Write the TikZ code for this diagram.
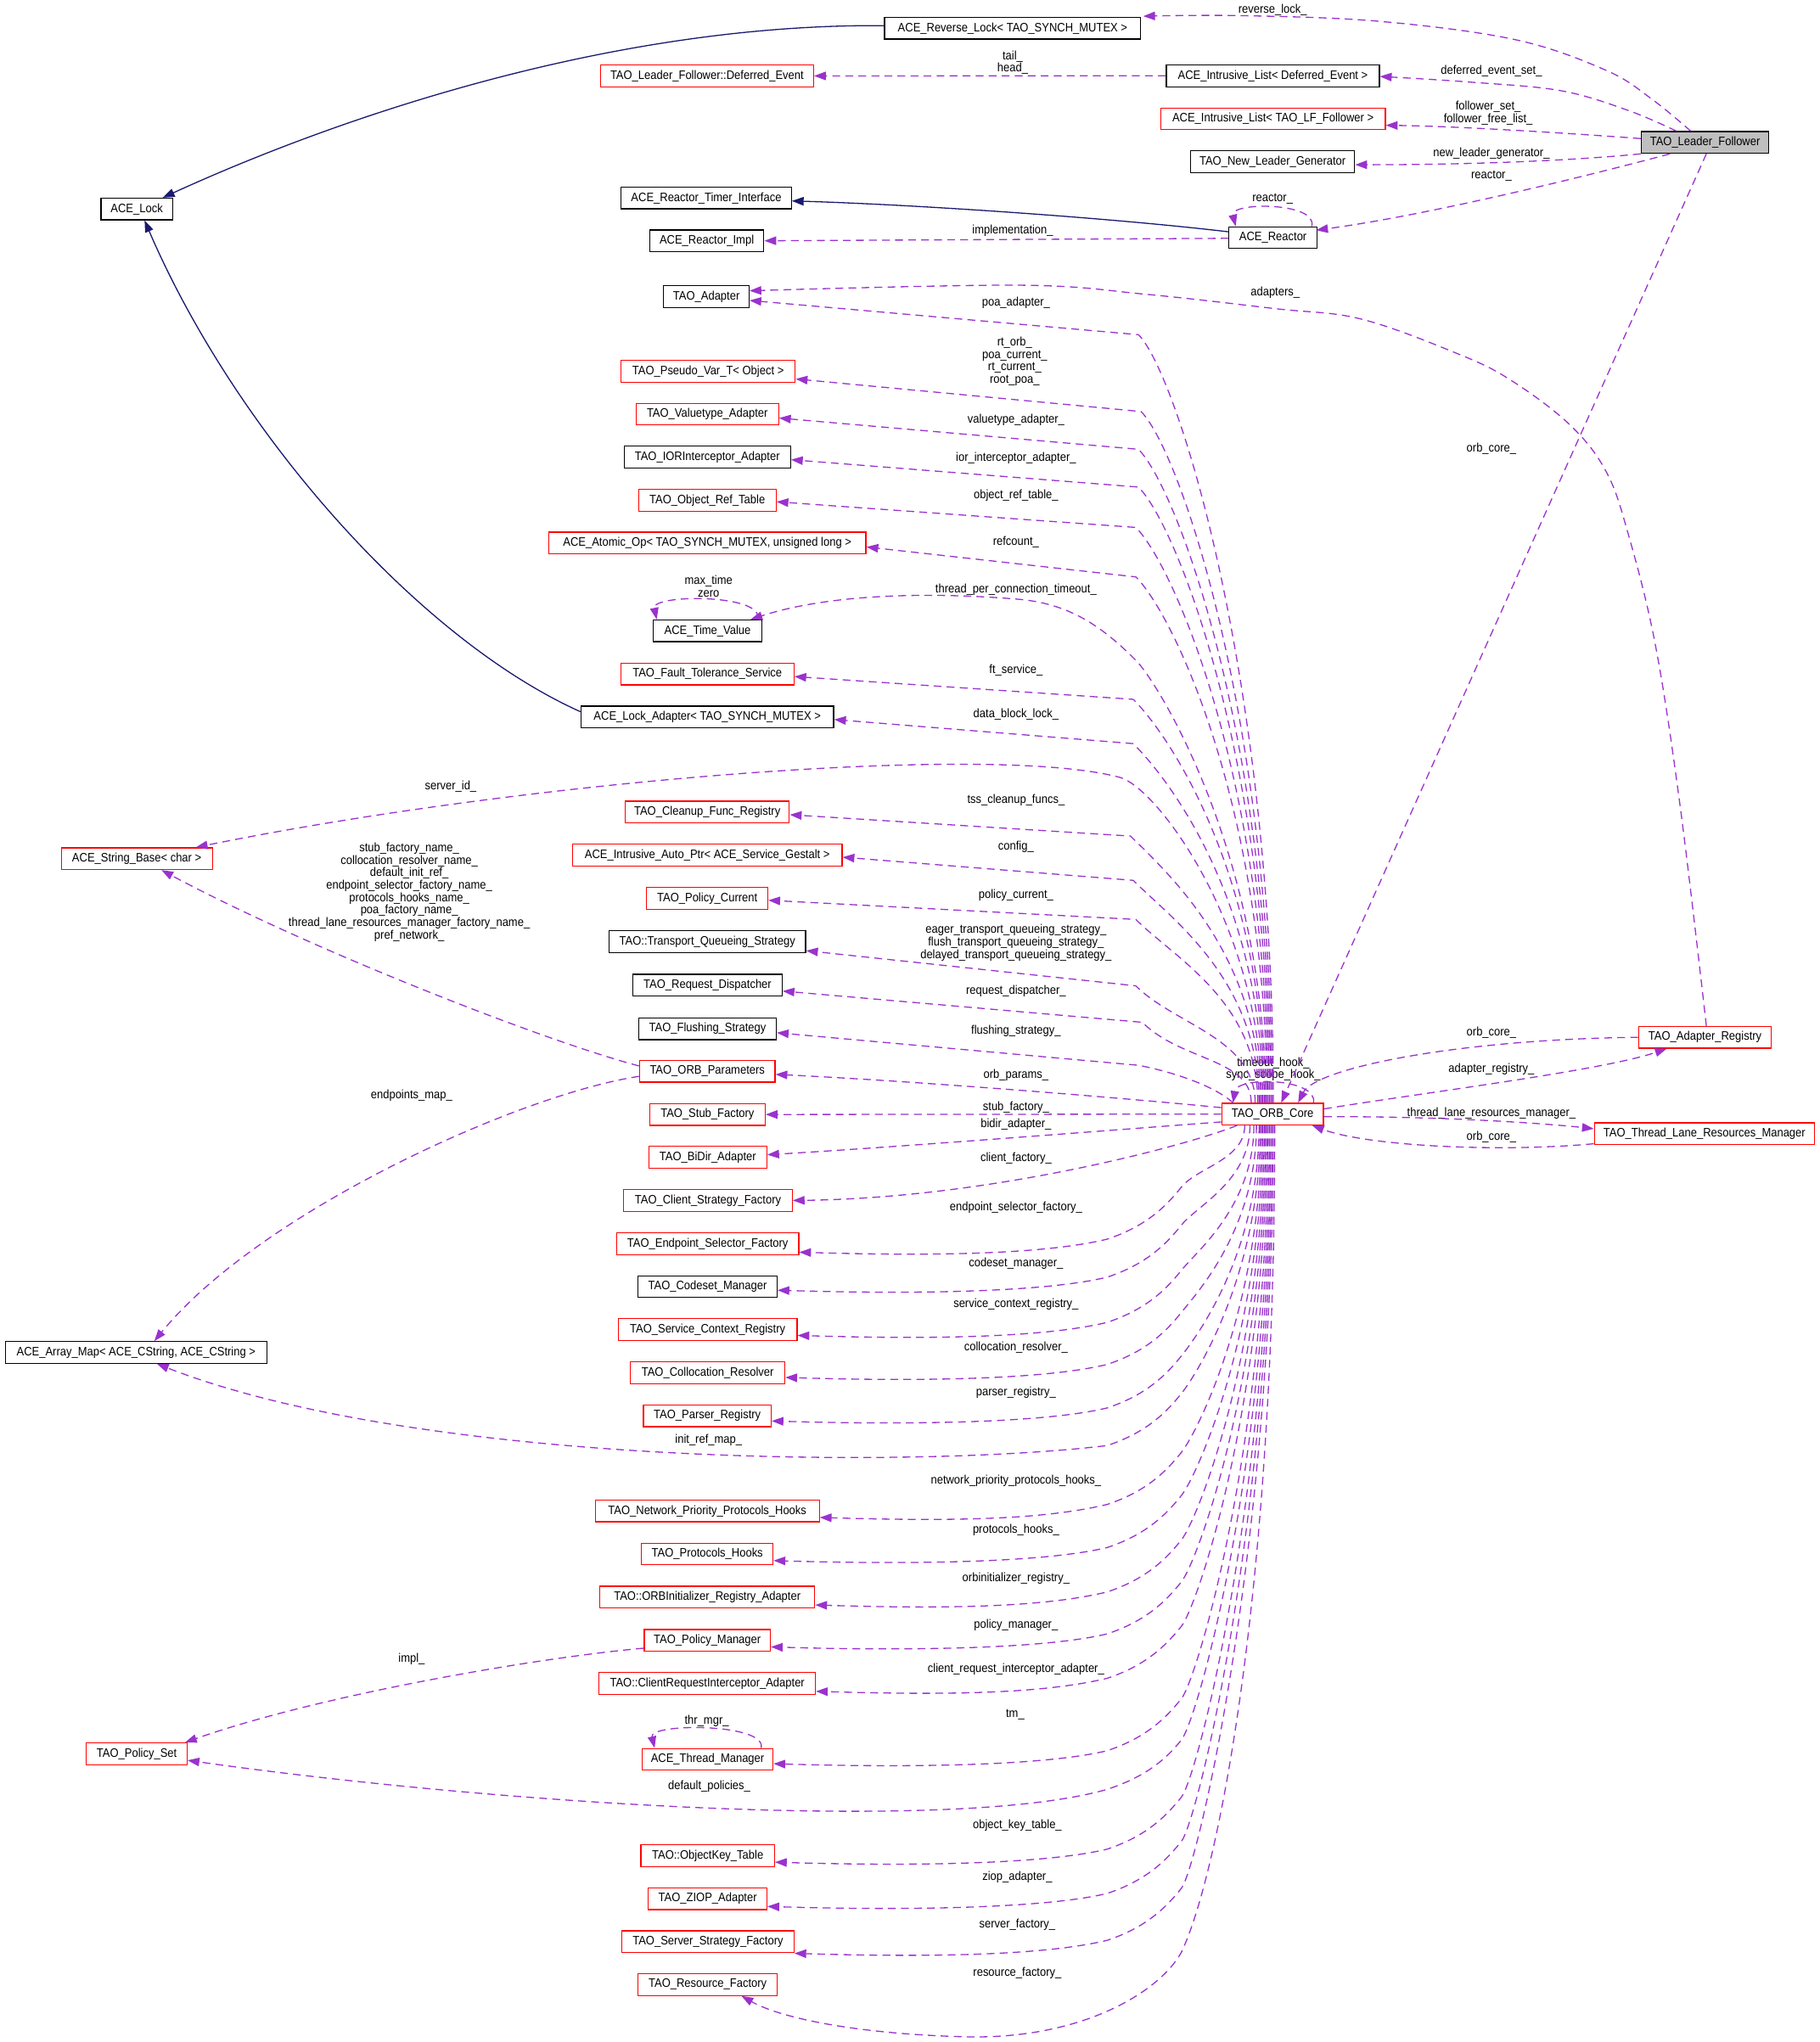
\documentclass[tikz,border=0pt]{standalone}
\usepackage{fontspec}
\setmainfont{Liberation Sans}[FakeStretch=0.9]
\usetikzlibrary{arrows.meta,calc}
\definecolor{edgepurple}{RGB}{154,50,205}
\definecolor{navyc}{RGB}{25,25,112}
\definecolor{lfgray}{RGB}{191,191,191}
\newcommand{\dgfont}{\fontsize{9.4}{9.6}\selectfont}
\newcommand{\upedge}[5]{%
  \draw[refedge] ($(core.north west)+(#5,0)$) .. controls ($(core.north west)+(#5,{-0.55*(847-#4)})$) and ({#3+30},{#4+30}) .. (#3,#4) -- ($(#1.east)+(0,#2)$);}
\newcommand{\lowedge}[4]{%
  \draw[refedge] ($(core.south west)+(#4,0)$) .. controls ($(core.south west)+(#4,{0.55*(#3-50-864)})$) and (919,{#3-65}) .. (907,{#3-50}) .. controls (895,{#3-35}) and (880,{#3-20}) .. (850,{#3-10}) .. controls (800,{#3+2}) and ($(#1.east)+(100,#2+3)$) .. ($(#1.east)+(0,#2)$);}
\tikzset{
  cls/.style={draw, line width=0.8pt, minimum height=16.7pt, inner xsep=2pt, inner ysep=1pt, font=\dgfont, fill=white},
  blk/.style={cls, draw=black},
  redb/.style={cls, draw=red},
  refedge/.style={draw=edgepurple, line width=0.85pt, dash pattern=on 6pt off 4pt, -{Triangle[length=9pt,width=6.5pt]}},
  inhedge/.style={draw=navyc, line width=0.85pt, -{Triangle[length=9pt,width=6.5pt]}},
  elabel/.style={font=\dgfont, inner sep=0pt, align=center},
}
\begin{document}
\begin{tikzpicture}[x=1pt,y=-1pt]
\fill[white] (0,0) rectangle (1397,1568);
\useasboundingbox (0,0) rectangle (1397,1568);
% ---------------- nodes ----------------
\node[blk, minimum width=196.8pt] (rev) at (777.4,21.7) {ACE\_Reverse\_Lock< TAO\_SYNCH\_MUTEX >};
\node[redb, minimum width=163.6pt] (tde) at (542.8,58.3) {TAO\_Leader\_Follower::Deferred\_Event};
\node[blk, minimum width=163.6pt] (idl) at (977.2,58.2) {ACE\_Intrusive\_List< Deferred\_Event >};
\node[redb, minimum width=172.5pt] (ill) at (977.3,91.2) {ACE\_Intrusive\_List< TAO\_LF\_Follower >};
\node[blk, fill=lfgray, minimum width=98pt] (lf) at (1309,109.4) {TAO\_Leader\_Follower};
\node[blk, minimum width=126pt] (nlg) at (977,124.2) {TAO\_New\_Leader\_Generator};
\node[blk, minimum width=54.8pt] (acelock) at (105,160.5) {ACE\_Lock};
\node[blk, minimum width=130.7pt] (timer) at (542.2,152) {ACE\_Reactor\_Timer\_Interface};
\node[blk, minimum width=87.7pt] (rimpl) at (542.6,184.9) {ACE\_Reactor\_Impl};
\node[blk, minimum width=67.5pt] (reactor) at (977.3,182.5) {ACE\_Reactor};
\node[blk, minimum width=65.5pt] (adapter) at (542.3,227.7) {TAO\_Adapter};
\node[redb, minimum width=133.8pt] (pseudo) at (543.6,285) {TAO\_Pseudo\_Var\_T< Object >};
\node[redb, minimum width=109.4pt] (vta) at (543,318) {TAO\_Valuetype\_Adapter};
\node[blk, minimum width=127.8pt] (ior) at (543,351) {TAO\_IORInterceptor\_Adapter};
\node[redb, minimum width=105.6pt] (ort) at (543,384.3) {TAO\_Object\_Ref\_Table};
\node[redb, minimum width=243.6pt] (atomic) at (543,417) {ACE\_Atomic\_Op< TAO\_SYNCH\_MUTEX, unsigned long >};
\node[blk, minimum width=83.3pt] (tv) at (543.2,484.4) {ACE\_Time\_Value};
\node[redb, minimum width=133pt] (fts) at (543,517.5) {TAO\_Fault\_Tolerance\_Service};
\node[blk, minimum width=194pt] (la) at (543,550.5) {ACE\_Lock\_Adapter< TAO\_SYNCH\_MUTEX >};
\node[redb, minimum width=126pt] (cfr) at (543,623.6) {TAO\_Cleanup\_Func\_Registry};
\node[redb, minimum width=116pt] (sb) at (105,659.4) {ACE\_String\_Base< char >};
\node[redb, minimum width=207pt] (iap) at (543,656.7) {ACE\_Intrusive\_Auto\_Ptr< ACE\_Service\_Gestalt >};
\node[redb, minimum width=93pt] (pc) at (543,689.8) {TAO\_Policy\_Current};
\node[blk, minimum width=151pt] (tqs) at (543,723) {TAO::Transport\_Queueing\_Strategy};
\node[blk, minimum width=114.5pt] (rd) at (543.2,756.5) {TAO\_Request\_Dispatcher};
\node[blk, minimum width=105.6pt] (fs) at (543.2,790) {TAO\_Flushing\_Strategy};
\node[redb, minimum width=104pt] (params) at (543,822.5) {TAO\_ORB\_Parameters};
\node[redb, minimum width=78pt] (core) at (977,855.5) {TAO\_ORB\_Core};
\node[redb, minimum width=102pt] (ar) at (1309,796.5) {TAO\_Adapter\_Registry};
\node[redb, minimum width=169pt] (tl) at (1308.5,870.5) {TAO\_Thread\_Lane\_Resources\_Manager};
\node[redb, minimum width=88.6pt] (stub) at (543.1,855.8) {TAO\_Stub\_Factory};
\node[redb, minimum width=90.6pt] (bidir) at (543.4,888.7) {TAO\_BiDir\_Adapter};
\node[redb, minimum width=129.5pt] (csf) at (543.5,921.8) {TAO\_Client\_Strategy\_Factory};
\node[redb, minimum width=139.8pt] (esf) at (543.3,955) {TAO\_Endpoint\_Selector\_Factory};
\node[blk, minimum width=106.7pt] (cm) at (543.2,988) {TAO\_Codeset\_Manager};
\node[redb, minimum width=137.2pt] (scr) at (543.3,1020.9) {TAO\_Service\_Context\_Registry};
\node[redb, minimum width=118.5pt] (cr) at (543.3,1054) {TAO\_Collocation\_Resolver};
\node[blk, minimum width=201pt] (am) at (104.5,1038.5) {ACE\_Array\_Map< ACE\_CString, ACE\_CString >};
\node[redb, minimum width=98pt] (pr) at (543,1087.1) {TAO\_Parser\_Registry};
\node[redb, minimum width=172pt] (npph) at (543,1160.2) {TAO\_Network\_Priority\_Protocols\_Hooks};
\node[redb, minimum width=101pt] (ph) at (543,1193.3) {TAO\_Protocols\_Hooks};
\node[redb, minimum width=165pt] (ora) at (543,1226.4) {TAO::ORBInitializer\_Registry\_Adapter};
\node[redb, minimum width=96.8pt] (pm) at (543,1259.6) {TAO\_Policy\_Manager};
\node[redb, minimum width=166pt] (cria) at (543,1292.7) {TAO::ClientRequestInterceptor\_Adapter};
\node[redb, minimum width=77.3pt] (ps) at (105,1346.7) {TAO\_Policy\_Set};
\node[redb, minimum width=100.5pt] (tm) at (543.2,1351) {ACE\_Thread\_Manager};
\node[redb, minimum width=102.6pt] (okt) at (543.3,1424.9) {TAO::ObjectKey\_Table};
\node[redb, minimum width=91pt] (ziop) at (543.3,1457.9) {TAO\_ZIOP\_Adapter};
\node[redb, minimum width=132pt] (ssf) at (543.5,1490.9) {TAO\_Server\_Strategy\_Factory};
\node[redb, minimum width=106.7pt] (rf) at (543.3,1523.9) {TAO\_Resource\_Factory};
% ---------------- labels ----------------
\node[elabel] (l1) at (977,7.6) {reverse\_lock\_};
\node[elabel] (l2) at (1145,54.3) {deferred\_event\_set\_};
\node[elabel] (l3) at (777.5,48) {tail\_\\head\_};
\node[elabel] (l4) at (1142.5,87) {follower\_set\_\\follower\_free\_list\_};
\node[elabel] (l5) at (1145,117.8) {new\_leader\_generator\_};
\node[elabel] (l6) at (1145,135) {reactor\_};
\node[elabel] (l7) at (977,153) {reactor\_};
\node[elabel] (l8) at (777.5,177) {implementation\_};
\node[elabel] (l9) at (979,225) {adapters\_};
\node[elabel] (l10) at (780,232.6) {poa\_adapter\_};
\node[elabel] (l11) at (779,277.4) {rt\_orb\_\\poa\_current\_\\rt\_current\_\\root\_poa\_};
\node[elabel] (l12) at (780,322.6) {valuetype\_adapter\_};
\node[elabel] (l13) at (780,352) {ior\_interceptor\_adapter\_};
\node[elabel] (l14) at (780,380.3) {object\_ref\_table\_};
\node[elabel] (l15) at (780,416) {refcount\_};
\node[elabel] (l16) at (544,450.4) {max\_time\\zero};
\node[elabel] (l17) at (780,453) {thread\_per\_connection\_timeout\_};
\node[elabel] (l18) at (780,514.5) {ft\_service\_};
\node[elabel] (l19) at (780,548.4) {data\_block\_lock\_};
\node[elabel] (l20) at (346,604) {server\_id\_};
\node[elabel] (l21) at (780,614.2) {tss\_cleanup\_funcs\_};
\node[elabel] (l22) at (780,650) {config\_};
\node[elabel] (l23) at (780,687.5) {policy\_current\_};
\node[elabel] (l24) at (780,723.8) {eager\_transport\_queueing\_strategy\_\\flush\_transport\_queueing\_strategy\_\\delayed\_transport\_queueing\_strategy\_};
\node[elabel] (l25) at (780,761) {request\_dispatcher\_};
\node[elabel] (l26) at (780,791.7) {flushing\_strategy\_};
\node[elabel] (l27) at (780,825.4) {orb\_params\_};
\node[elabel] (l28) at (780,850.4) {stub\_factory\_};
\node[elabel] (l29) at (780,863.4) {bidir\_adapter\_};
\node[elabel] (l30) at (780,889.5) {client\_factory\_};
\node[elabel] (l31) at (780,927.1) {endpoint\_selector\_factory\_};
\node[elabel] (l32) at (780,970) {codeset\_manager\_};
\node[elabel] (l33) at (780,1001.5) {service\_context\_registry\_};
\node[elabel] (l34) at (780,1034.5) {collocation\_resolver\_};
\node[elabel] (l35) at (780,1069.3) {parser\_registry\_};
\node[elabel] (l36) at (544,1106) {init\_ref\_map\_};
\node[elabel] (l37) at (780,1137) {network\_priority\_protocols\_hooks\_};
\node[elabel] (l38) at (780,1175) {protocols\_hooks\_};
\node[elabel] (l39) at (780,1212) {orbinitializer\_registry\_};
\node[elabel] (l40) at (780,1248) {policy\_manager\_};
\node[elabel] (l41) at (780,1282) {client\_request\_interceptor\_adapter\_};
\node[elabel] (l42) at (779.4,1316.7) {tm\_};
\node[elabel] (l43) at (542.6,1321.5) {thr\_mgr\_};
\node[elabel] (l44) at (544.5,1371.5) {default\_policies\_};
\node[elabel] (l45) at (781,1401.5) {object\_key\_table\_};
\node[elabel] (l46) at (781,1441.2) {ziop\_adapter\_};
\node[elabel] (l47) at (781,1478.2) {server\_factory\_};
\node[elabel] (l48) at (781,1515.2) {resource\_factory\_};
\node[elabel] (l49) at (316,1274) {impl\_};
\node[elabel] (l50) at (316,841) {endpoints\_map\_};
\node[elabel] (l51) at (314.2,685) {stub\_factory\_name\_\\collocation\_resolver\_name\_\\default\_init\_ref\_\\endpoint\_selector\_factory\_name\_\\protocols\_hooks\_name\_\\poa\_factory\_name\_\\thread\_lane\_resources\_manager\_factory\_name\_\\pref\_network\_};
\node[elabel] (l52) at (1145,344.6) {orb\_core\_};
\node[elabel] (l53) at (1145,792.8) {orb\_core\_};
\node[elabel] (l54) at (1145,821) {adapter\_registry\_};
\node[elabel] (l55) at (977.5,821) {timeout\_hook\_\\sync\_scope\_hook\_};
\node[elabel] (l56) at (1145,855) {thread\_lane\_resources\_manager\_};
\node[elabel] (l57) at (1145,873) {orb\_core\_};
% ---------------- inheritance ----------------
\draw[inhedge] ($(rev.west)+(0,-2)$) .. controls (470,18) and (260,90) .. ($(acelock.north)+(20,0)$);
\draw[inhedge] ($(la.west)+(0,-4)$) .. controls (320,490) and (180,330) .. ($(acelock.south)+(6,0)$);
\draw[inhedge] ($(reactor.west)+(0,-4.5)$) .. controls (850,167) and (700,157) .. ($(timer.east)+(0,2.3)$);
% ---------------- Leader follower ----------------
\coordinate (rl0) at ($(lf.north)+(-11,0)$);
\coordinate (rl1) at ($(rev.north east)+(1.5,-0.5)$);
\draw[refedge] plot[smooth, tension=0.6] coordinates {(rl0) (1268,76) (1233,54) (1163,30.4) (1058,16.3) (952,12) (rl1)};
\coordinate (de0) at ($(lf.north)+(-22,0)$);
\coordinate (de1) at ($(idl.east)+(0,0.5)$);
\draw[refedge] plot[smooth, tension=0.6] coordinates {(de0) (1250,84.8) (1198,69.6) (1128,63) (de1)};
\draw[refedge] ($(lf.west)+(0,-3)$) .. controls (1200,102) and (1120,97) .. ($(ill.east)+(0,5)$);
\draw[refedge] (lf.south west) .. controls (1200,124) and (1120,126.5) .. ($(nlg.east)+(0,2.3)$);
\draw[refedge] ($(lf.south)+(-27,0)$) .. controls (1200,140) and (1090,166) .. ($(reactor.north east)+(-1,3)$);
\draw[refedge] (idl.west) -- (tde.east);
\draw[refedge] ($(reactor.north east)+(-4.4,0)$) .. controls (1012,155) and (944,155) .. ($(reactor.north west)+(5.5,0)$);
\draw[refedge] ($(reactor.west)+(0,0.5)$) -- (rimpl.east);
\draw[refedge] ($(lf.south)+(1,0)$) -- ($(core.north west)+(46,0)$);
% ---------------- adapter registry etc ----------------
\coordinate (ad0) at ($(ar.north)+(1,0)$);
\coordinate (ad1) at ($(adapter.east)+(0,-4.4)$);
\draw[refedge] plot[smooth, tension=0.6] coordinates {(ad0) (1290,620) (1271,496) (1250,410) (1233,362) (1205,326) (1160,292) (1120,272) (1045,245) (979,237) (880,226) (782,219) (ad1)};
\draw[refedge] ($(core.east)+(0,-4)$) .. controls (1100,838) and (1230,822) .. ($(ar.south west)+(22,0)$);
\draw[refedge] (ar.west) .. controls (1120,798) and (1010,820) .. ($(core.north west)+(59,0)$);
\draw[refedge] ($(core.east)+(0,2)$) .. controls (1100,857) and (1180,862) .. ($(tl.west)+(0,-3.8)$);
\draw[refedge] ($(tl.south west)+(0,-1)$) .. controls (1150,885) and (1050,880) .. ($(core.south east)+(-9,0)$);
\draw[refedge] ($(core.north east)+(-8,0)$) .. controls (1012,828) and (950,826) .. ($(core.north west)+(9,0)$);
% ---------------- upper fan ----------------
\upedge{adapter}{3}{874}{257}{40}
\upedge{pseudo}{6}{876}{316}{39}
\upedge{vta}{3}{874}{345}{38}
\upedge{ior}{2}{874}{374}{37}
\upedge{ort}{1}{872}{405}{36}
\upedge{atomic}{3}{872}{443}{35}
\draw[refedge] ($(core.north west)+(34,0)$) .. controls (972,660) and (890,525) .. (872,507) .. controls (845,480) and (820,463) .. (780,460) .. controls (720,455) and (640,455) .. ($(tv.north east)+(-9,0)$);
\draw[refedge] ($(tv.north east)+(-3.8,0)$) .. controls (588,456) and (500,456) .. ($(tv.north west)+(3,0)$);
\upedge{fts}{2}{870}{537}{33}
\upedge{la}{2}{870}{571}{32}
\draw[refedge] ($(core.north west)+(31,0)$) .. controls (969,715) and (890,606) .. (860,597) .. controls (760,570) and (400,600) .. ($(sb.north east)+(-13,0)$);
\upedge{cfr}{2}{868}{642}{30}
\upedge{iap}{1.5}{870}{676}{29}
\upedge{pc}{1.5}{872}{706}{28}
\upedge{tqs}{7}{872}{757}{26}
\upedge{rd}{4.5}{877}{785}{23}
\draw[refedge] ($(core.north west)+(9,0)$) .. controls (930,832) and (895,822) .. (874,818) -- ($(fs.east)+(0,3)$);
\draw[refedge] ($(core.west)+(0,-5)$) .. controls (850,842) and (700,830) .. ($(params.east)+(0,2.5)$);
% ---------------- ORB parameters ----------------
\draw[refedge] ($(params.west)+(0,-4)$) .. controls (420,800) and (240,730) .. ($(sb.south)+(19,0)$);
\draw[refedge] ($(params.west)+(0,4)$) .. controls (400,840) and (200,930) .. ($(am.north)+(14,0)$);
% ---------------- lower fan ----------------
\draw[refedge] (core.west) -- (stub.east);
\draw[refedge] ($(core.west)+(0,6)$) .. controls (850,868) and (700,880) .. ($(bidir.east)+(0,-2)$);
\draw[refedge] ($(core.south west)+(12,0)$) .. controls (910,880) and (760,920) .. (csf.east);
\lowedge{esf}{6.5}{961.5}{18}
\lowedge{cm}{2.7}{990.7}{22}
\lowedge{scr}{4.5}{1025.4}{25}
\lowedge{cr}{3.7}{1057.7}{27}
\lowedge{pr}{4}{1091.1}{29}
\draw[refedge] ($(core.south west)+(30,0)$) .. controls (968,977) and (919,1055) .. (907,1070) .. controls (895,1085) and (880,1100) .. (850,1110) .. controls (700,1128) and (320,1125) .. ($(am.south)+(16,0)$);
\lowedge{npph}{5}{1165.2}{31}
\lowedge{ph}{5}{1198.3}{32}
\lowedge{ora}{6}{1232.4}{33}
\lowedge{pm}{5}{1264.6}{34}
\lowedge{cria}{6}{1298.7}{35}
\lowedge{tm}{3.3}{1354.3}{36}
\draw[refedge] ($(core.south west)+(37,0)$) .. controls (975,1124) and (919,1321) .. (907,1336) .. controls (895,1351) and (880,1364) .. (850,1374) .. controls (730,1408) and (380,1385) .. ($(ps.east)+(0,5)$);
\lowedge{okt}{5}{1429.9}{38}
\lowedge{ziop}{6}{1463.9}{39}
\lowedge{ssf}{9}{1499.9}{40}
\draw[refedge] ($(core.south west)+(41,0)$) .. controls (979,1220) and (935,1440) .. (907,1499) .. controls (890,1530) and (830,1566) .. (742,1564) .. controls (660,1562) and (600,1550) .. ($(rf.south)+(26,0)$);
\draw[refedge] ($(pm.west)+(0,6)$) .. controls (420,1272) and (250,1300) .. ($(ps.north east)+(-2,0)$);
\draw[refedge] ($(tm.north east)+(-9.5,0)$) .. controls (589,1323) and (498,1323) .. ($(tm.north west)+(10,0)$);
\end{tikzpicture}
\end{document}
